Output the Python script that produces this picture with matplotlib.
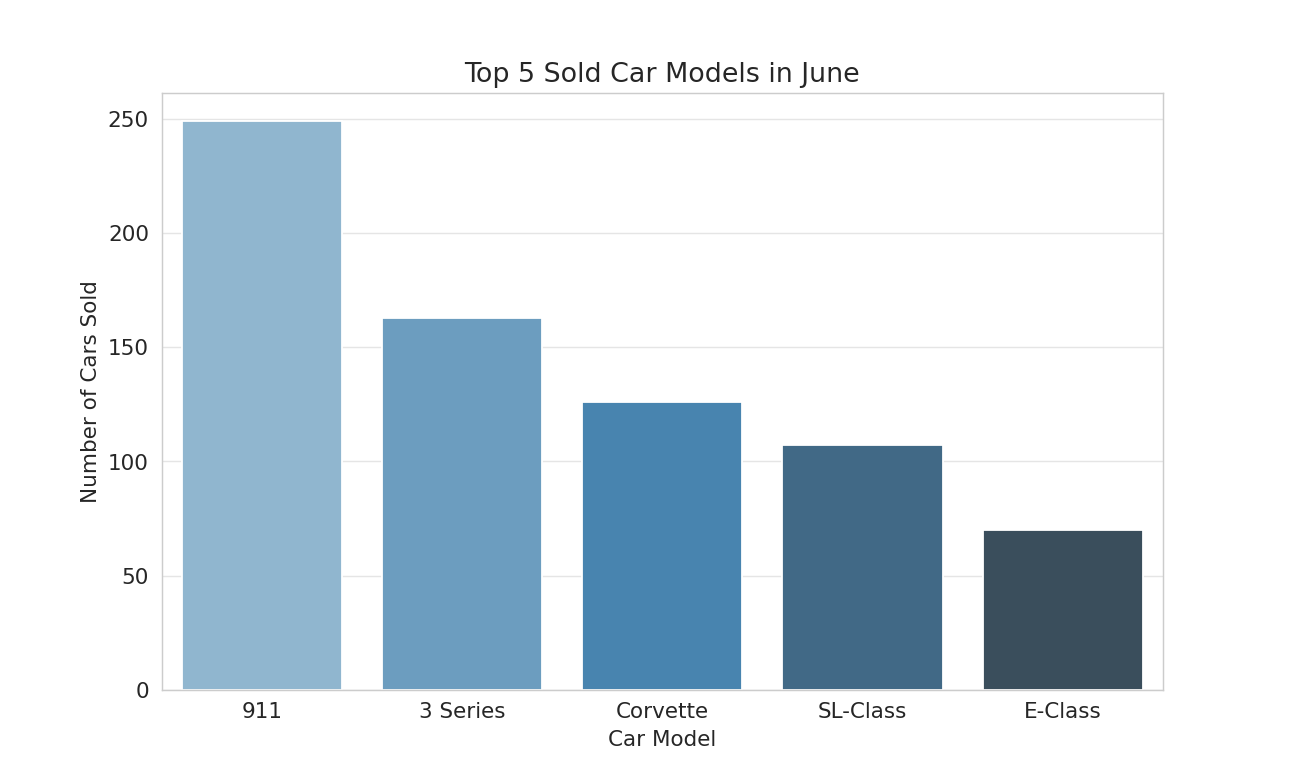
import matplotlib
matplotlib.use("Agg")
import matplotlib.pyplot as plt
import seaborn as sns
import pandas as pd

models = ["911", "3 Series", "Corvette", "SL-Class", "E-Class"]
sold = [249, 163, 126, 107, 70]

sns.set_style("whitegrid")
df = pd.DataFrame({"Car Model": models, "Number of Cars Sold": sold})

fig, ax = plt.subplots(figsize=(10, 6), dpi=129.2)
sns.barplot(data=df, x="Car Model", y="Number of Cars Sold", hue="Car Model",
            palette="Blues_d", legend=False, ax=ax)
ax.set_title("Top 5 Sold Car Models in June", fontsize=15)
ax.set_xlabel("Car Model", fontsize=12)
ax.set_ylabel("Number of Cars Sold", fontsize=12)
ax.tick_params(axis="both", labelsize=12)
ax.grid(True, axis="y", alpha=0.5)
ax.grid(False, axis="x")
fig.savefig("out.png", dpi=129.2)
